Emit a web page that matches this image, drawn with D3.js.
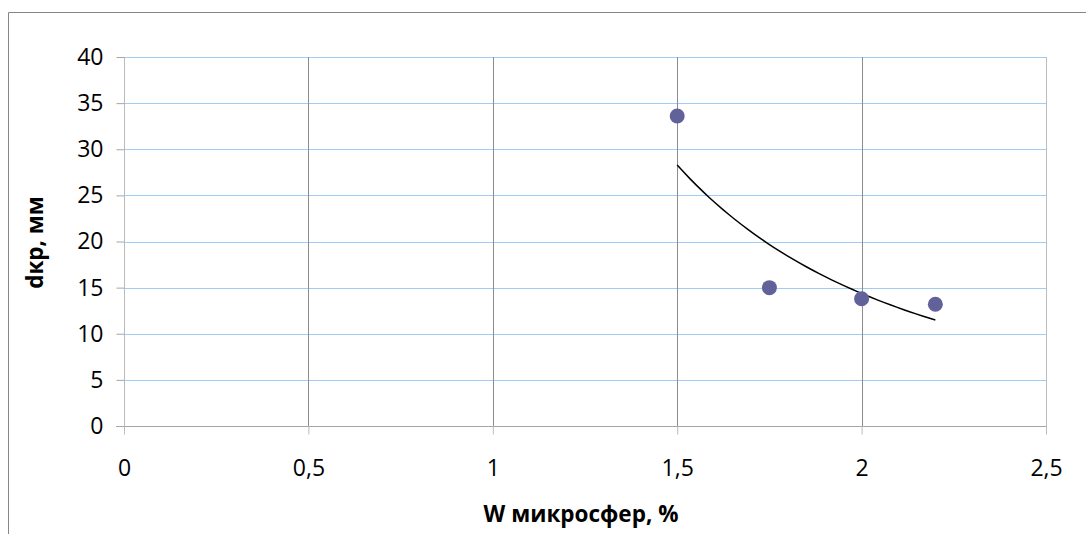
<!DOCTYPE html>
<html>
<head>
<meta charset="utf-8">
<script src="https://cdn.jsdelivr.net/npm/d3@7"></script>
<style>
  body { margin: 0; background: #fff; }
  svg { display: block; font-family: "Open Sans", Lato, sans-serif; }
</style>
</head>
<body>
<svg></svg>
<script>
var width = 1086;
var height = 534;

// data
var xValues = [1.5, 1.75, 2.0, 2.2];
var yValues = [33.6, 15.0, 13.8, 13.2];
var xTicks = [0, 0.5, 1, 1.5, 2, 2.5];
var yTicks = [0, 5, 10, 15, 20, 25, 30, 35, 40];
var xTitle = "W микросфер, %";
var yTitle = "dкр, мм";

var margin = {left: 124, right: 40, top: 57, bottom: 108};
var font = '"Open Sans", Lato, sans-serif';

var svg = d3.select('svg')
    .attr('width', width)
    .attr('height', height);

// outer chart border
svg.append('path')
    .attr('d', 'M8.5,' + height + 'V12.5H' + width)
    .attr('fill', 'none')
    .attr('stroke', '#868686')
    .attr('stroke-width', 1);

var x = d3.scaleLinear().domain([0, 2.5]).range([margin.left, width - margin.right]);
var y = d3.scaleLinear().domain([0, 40]).range([height - margin.bottom, margin.top]);

// horizontal gridlines
svg.append('g').selectAll('line')
    .data(yTicks.filter(function(d){ return d > 0; }))
  .enter().append('line')
    .attr('x1', x(0)).attr('x2', x(2.5))
    .attr('y1', function(d){ return Math.round(y(d)) + 0.5; })
    .attr('y2', function(d){ return Math.round(y(d)) + 0.5; })
    .attr('stroke', '#9fcdf8')
    .attr('stroke-width', 1);

// vertical gridlines
svg.append('g').selectAll('line')
    .data(xTicks.filter(function(d){ return d > 0 && d < 2.5; }))
  .enter().append('line')
    .attr('x1', function(d){ return Math.round(x(d)) + 0.5; })
    .attr('x2', function(d){ return Math.round(x(d)) + 0.5; })
    .attr('y1', y(40)).attr('y2', y(0))
    .attr('stroke', '#8c8c8c')
    .attr('stroke-width', 1);

// right edge of plot
svg.append('line')
    .attr('x1', Math.round(x(2.5)) + 0.5).attr('x2', Math.round(x(2.5)) + 0.5)
    .attr('y1', y(40)).attr('y2', y(0) + 8)
    .attr('stroke', '#bcbcbc');

// y axis
var yAxis = svg.append('g')
    .attr('transform', 'translate(' + (Math.round(x(0)) + 0.5) + ',0)')
    .call(d3.axisLeft(y).tickValues(yTicks).tickSize(8).tickPadding(13)
        .tickFormat(function(d){ return d; }));
yAxis.select('.domain').attr('stroke', '#bcbcbc').attr('d', 'M0,' + y(40) + 'V' + (y(0) + 8));
yAxis.selectAll('.tick line').attr('stroke', '#a6a6a6');
yAxis.selectAll('.tick text')
    .attr('fill', '#000')
    .style('font-size', '23px')
    .style('font-family', font);

// x axis
var xAxis = svg.append('g')
    .attr('transform', 'translate(0,' + (Math.round(y(0)) + 0.5) + ')')
    .call(d3.axisBottom(x).tickValues(xTicks).tickSize(8).tickPadding(25)
        .tickFormat(function(d){ return String(d).replace('.', ','); }));
xAxis.select('.domain').attr('stroke', '#a6a6a6').attr('d', 'M' + (x(0) - 8) + ',0H' + x(2.5));
xAxis.selectAll('.tick line').attr('stroke', '#bcbcbc');
xAxis.selectAll('.tick text')
    .attr('fill', '#000')
    .style('font-size', '23px')
    .style('font-family', font);

// power trendline fitted to the points (y = a * x^b)
var lx = xValues.map(Math.log), ly = yValues.map(Math.log);
var mx = d3.mean(lx), my = d3.mean(ly);
var b = d3.sum(lx, function(d, i){ return (d - mx) * (ly[i] - my); }) /
        d3.sum(lx, function(d){ return (d - mx) * (d - mx); });
var a = Math.exp(my - b * mx);
var trend = d3.range(0, 41).map(function(i){
    var xv = xValues[0] + (xValues[xValues.length - 1] - xValues[0]) * i / 40;
    return [xv, a * Math.pow(xv, b)];
});
svg.append('path')
    .datum(trend)
    .attr('d', d3.line().x(function(d){ return x(d[0]); }).y(function(d){ return y(d[1]); }))
    .attr('fill', 'none')
    .attr('stroke', '#000')
    .attr('stroke-width', 1.5);

// points
svg.append('g').selectAll('circle')
    .data(xValues)
  .enter().append('circle')
    .attr('cx', function(d){ return x(d); })
    .attr('cy', function(d, i){ return y(yValues[i]); })
    .attr('r', 7.5)
    .attr('fill', '#62629a');

// axis titles
svg.append('text')
    .attr('x', (x(0) + x(2.5)) / 2 - 4)
    .attr('y', 522)
    .attr('text-anchor', 'middle')
    .style('font-size', '22.5px')
    .style('font-weight', 'bold')
    .text(xTitle);

svg.append('text')
    .attr('transform', 'translate(43,' + (y(20) + 1) + ') rotate(-90)')
    .attr('text-anchor', 'middle')
    .style('font-size', '22.5px')
    .style('font-weight', 'bold')
    .text(yTitle);
</script>
</body>
</html>
